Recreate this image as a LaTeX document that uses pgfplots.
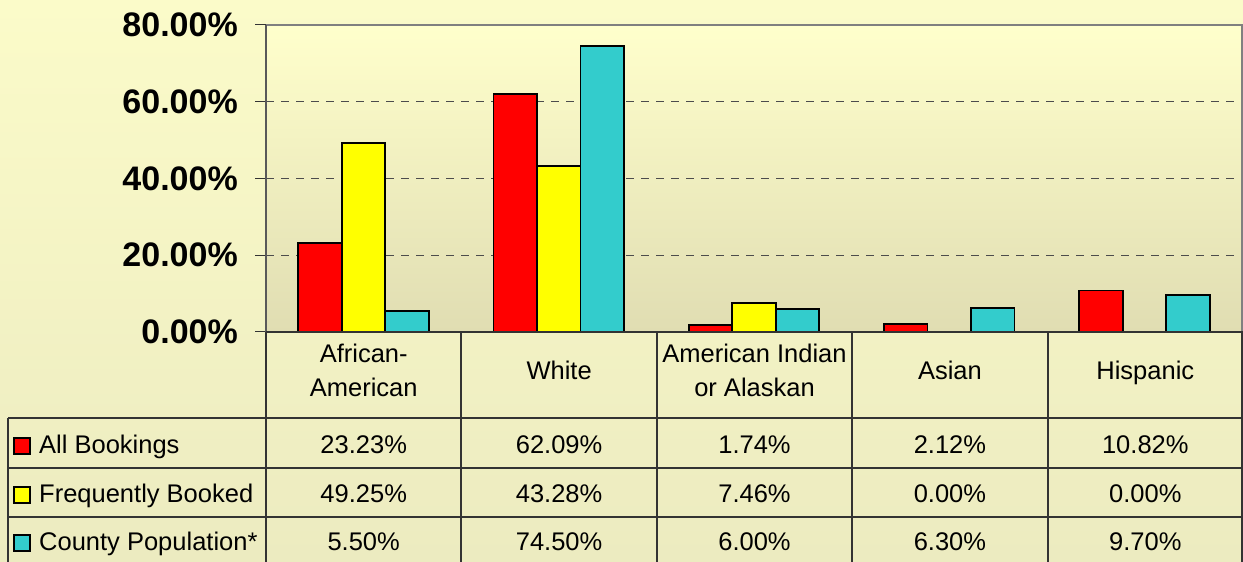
\documentclass[border=0pt]{standalone}
\usepackage{pgfplots}
\pgfplotsset{compat=1.18}
\usepackage{fontspec}
\setmainfont{Liberation Sans}
\definecolor{barred}{HTML}{FF0000}
\definecolor{baryel}{HTML}{FFFF00}
\definecolor{barcyan}{HTML}{33CCCC}
\definecolor{bgtop}{HTML}{FBFBC9}
\definecolor{bgbot}{HTML}{ECEBC0}
\definecolor{pltop}{HTML}{FFFFCC}
\definecolor{plbot}{HTML}{E0DDB2}
\definecolor{tline}{HTML}{333333}
\begin{document}
\begin{tikzpicture}[x=1bp,y=1bp]
\shade[top color=bgtop,bottom color=bgbot] (0,0) rectangle (1243,562);
\begin{axis}[at={(266bp,230bp)},anchor=south west,scale only axis,
  width=976bp,height=307bp,
  xmin=-0.5,xmax=4.5,ymin=0,ymax=80,
  ybar=0pt, bar width=43.5bp,
  axis line style={draw=none},
  xtick=\empty,
  ytick={0,20,40,60,80},
  yticklabels={0.00\%,20.00\%,40.00\%,60.00\%,80.00\%},
  ytick pos=left, tick align=outside, major tick length=11bp,
  ytick style={draw=tline, line width=1bp},
  yticklabel style={font=\fontsize{34bp}{40bp}\selectfont\bfseries, inner sep=0pt, xshift=-17bp},
  ymajorgrids,
  major grid style={draw=black!70, line width=1.2bp, dash pattern=on 8bp off 7bp},
  axis background/.style={shade, top color=pltop, bottom color=plbot},
  clip=false,
  every axis plot/.append style={draw=black, line width=1.8bp},
]
\addplot[fill=barred] coordinates {(0,23.23) (1,62.09) (2,1.74) (3,2.12) (4,10.82)};
\addplot[fill=baryel] coordinates {(0,49.25) (1,43.28) (2,7.46)};
\addplot[fill=barcyan] coordinates {(0,5.50) (1,74.50) (2,6.00) (3,6.30) (4,9.70)};
\draw[draw=gray, line width=2bp] (rel axis cs:0,1) -- (rel axis cs:1,1) -- (rel axis cs:1,0);
\draw[draw=black!65, line width=1.5bp] (rel axis cs:0,0) -- (rel axis cs:0,1);
\end{axis}
% data table grid
\begin{scope}[draw=tline, line width=1.3bp]
\draw (266,230) -- (1243,230);
\draw (8,144) -- (1243,144);
\draw (8,94) -- (1243,94);
\draw (8,45) -- (1243,45);
\draw (8,144) -- (8,0);
\foreach \xx in {266,461,657,852,1048,1242} {\draw (\xx,230) -- (\xx,0);}
\end{scope}
\begin{scope}[every node/.style={font=\fontsize{25.5bp}{30bp}\selectfont, inner sep=0pt, anchor=base}]
\node at (363.7,199) {African-};
\node at (363.7,165) {American};
\node at (559.1,182) {White};
\node at (754.5,199) {American Indian};
\node at (754.5,165) {or Alaskan};
\node at (949.9,182) {Asian};
\node at (1145.3,182) {Hispanic};
\node[anchor=base west] at (39,108) {All Bookings};
\node[anchor=base west] at (39,59) {Frequently Booked};
\node[anchor=base west] at (39,11) {County Population*};
\node at (363.7,108) {23.23\%};
\node at (559.1,108) {62.09\%};
\node at (754.5,108) {1.74\%};
\node at (949.9,108) {2.12\%};
\node at (1145.3,108) {10.82\%};
\node at (363.7,59) {49.25\%};
\node at (559.1,59) {43.28\%};
\node at (754.5,59) {7.46\%};
\node at (949.9,59) {0.00\%};
\node at (1145.3,59) {0.00\%};
\node at (363.7,11) {5.50\%};
\node at (559.1,11) {74.50\%};
\node at (754.5,11) {6.00\%};
\node at (949.9,11) {6.30\%};
\node at (1145.3,11) {9.70\%};
\end{scope}
\draw[fill=barred, line width=1.2bp] (14,108) rectangle (30,124);
\draw[fill=baryel, line width=1.2bp] (14,59) rectangle (30,75);
\draw[fill=barcyan, line width=1.2bp] (14,11) rectangle (30,27);
\pgfresetboundingbox
\path[use as bounding box] (0,0) rectangle (1243,562);
\end{tikzpicture}
\end{document}
